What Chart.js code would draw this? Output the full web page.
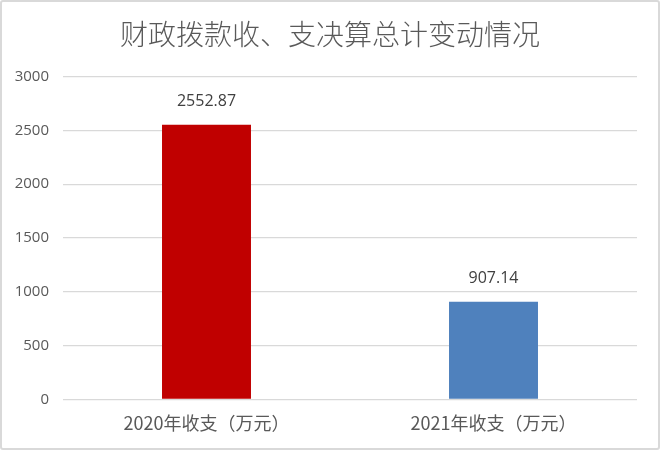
<!DOCTYPE html>
<html>
<head>
<meta charset="utf-8">
<script src="https://cdn.jsdelivr.net/npm/chart.js@4"></script>
<style>
  html, body { margin: 0; padding: 0; background: #fff; }
  #wrap { position: relative; width: 660px; height: 450px; box-sizing: border-box; border: 2px solid #d9d9d9; border-radius: 3px; }
  #myChart { position: absolute; left: -2px; top: -2px; }
</style>
</head>
<body>
<div id="wrap"><canvas id="myChart" width="660" height="450"></canvas></div>
<script>
var categories = ["2020年收支（万元）", "2021年收支（万元）"];
var values = [2552.87, 907.14];
var barColors = ["#C00000", "#4F81BD"];
var yTicks = [0, 500, 1000, 1500, 2000, 2500, 3000];

// draw the value above each bar
var valueLabels = {
  id: 'valueLabels',
  afterDatasetsDraw: function (chart) {
    var ctx = chart.ctx;
    var meta = chart.getDatasetMeta(0);
    ctx.save();
    ctx.font = '16px "Open Sans", "Noto Sans", sans-serif';
    ctx.fillStyle = '#404040';
    ctx.textAlign = 'center';
    ctx.textBaseline = 'middle';
    meta.data.forEach(function (bar, i) {
      ctx.fillText(values[i].toFixed(2), bar.x, bar.y - 23);
    });
    ctx.restore();
  }
};

var ctx = document.getElementById('myChart');
var myBarChart = new Chart(ctx, {
  type: 'bar',
  data: {
    labels: categories,
    datasets: [
      {
        data: values,
        backgroundColor: barColors,
        barPercentage: 0.31,
        categoryPercentage: 1
      }
    ]
  },
  options: {
    responsive: false,
    animation: false,
    layout: { padding: { left: 0, right: 0, top: 0, bottom: 3 } },
    plugins: {
      legend: { display: false },
      tooltip: { enabled: false },
      title: {
        display: true,
        text: '财政拨款收、支决算总计变动情况',
        color: '#595959',
        font: { family: '"Noto Sans CJK SC", sans-serif', size: 28, weight: 300 },
        padding: { top: 18, bottom: 25 }
      }
    },
    scales: {
      x: {
        grid: { display: false, drawTicks: false },
        border: { display: false },
        ticks: {
          color: '#595959',
          padding: 13,
          font: { family: '"Noto Sans CJK SC", sans-serif', size: 18 }
        }
      },
      y: {
        min: 0,
        max: 3000,
        afterFit: function (scale) { scale.width = 63; },
        afterBuildTicks: function (scale) {
          scale.ticks = yTicks.map(function (v) { return { value: v }; });
        },
        grid: { color: '#d9d9d9', lineWidth: 1.3, drawTicks: false },
        border: { display: false },
        ticks: {
          color: '#595959',
          padding: 14,
          font: { family: '"Open Sans", "Noto Sans", sans-serif', size: 15 },
          callback: function (v) { return String(v); }
        }
      },
      // empty right axis, only keeps space on the right
      yRight: {
        position: 'right',
        min: 0,
        max: 3000,
        afterFit: function (scale) { scale.width = 23; },
        grid: { display: false, drawTicks: false },
        border: { display: false },
        ticks: { display: false }
      }
    }
  },
  plugins: [valueLabels]
});
</script>
</body>
</html>
